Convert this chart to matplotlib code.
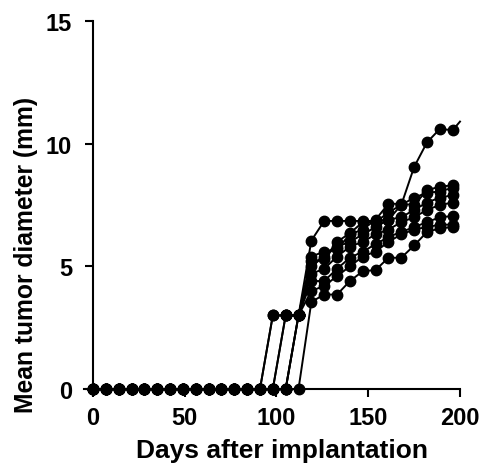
import matplotlib
matplotlib.use("Agg")
import matplotlib.pyplot as plt
import numpy as np

# Measurement days (every 7 days)
days = list(range(0, 197, 7))  # 0..196

# Onset day (last zero reading) and values; 3 mm = first detectable size
late_days = [119, 126, 133, 140, 147, 154, 161, 168, 175, 182, 189, 196]
curves = {
    "A": {"zero_until": 91, "late": [6.05, 6.85, 6.85, 6.85, 6.85, 6.85, 6.9, 7.5, 9.05, 10.05, 10.6, 10.55]},
    "B": {"zero_until": 98, "late": [5.4, 5.6, 5.7, 6.3, 6.5, 6.9, 7.55, 7.55, 7.5, 8.1, 8.25, 8.3]},
    "C": {"zero_until": 105, "late": [5.2, 5.3, 6.0, 6.35, 6.8, 6.8, 7.2, 7.5, 7.8, 8.0, 8.05, 8.2]},
    "D": {"zero_until": 105, "late": [5.0, 5.4, 5.8, 6.0, 6.3, 6.6, 6.9, 7.0, 7.3, 7.6, 7.8, 7.9]},
    "E": {"zero_until": 98, "late": [4.7, 4.9, 5.4, 5.8, 6.0, 6.3, 6.5, 6.8, 7.0, 7.3, 7.5, 7.6]},
    "F": {"zero_until": 105, "late": [4.4, 4.4, 4.9, 5.35, 5.6, 5.9, 6.2, 6.4, 6.6, 6.8, 7.0, 7.05]},
    "G": {"zero_until": 91, "late": [4.0, 4.2, 4.6, 5.0, 5.4, 5.6, 6.0, 6.3, 6.5, 6.6, 6.7, 6.7]},
    "H": {"zero_until": 112, "late": [3.55, 3.85, 3.85, 4.4, 4.8, 4.85, 5.35, 5.35, 5.85, 6.4, 6.55, 6.6]},
}
detect_value = 3.0
# top curve continues to day 200 (line only)
tail_day = 200
tail_value = 10.9

fig = plt.figure(figsize=(4.88, 4.64), dpi=100)
ax = fig.add_axes([83.8 / 488, 74 / 464, (460 - 83.8) / 488, 368 / 464])

for name, c in curves.items():
    ys = []
    for d in days:
        if d <= c["zero_until"]:
            ys.append(0.0)
        elif d < 119:
            ys.append(detect_value)
        else:
            ys.append(c["late"][late_days.index(d)])
    xs = list(days)
    ax.plot(xs, ys, color="black", lw=1.4, marker="o", ms=7.5, clip_on=False, zorder=3)
    if name == "A":
        ax.plot([xs[-1], tail_day], [ys[-1], tail_value], color="black", lw=1.4, clip_on=False)

ax.set_xlim(-5, 200)
ax.set_ylim(0, 15)
ax.spines["top"].set_visible(False)
ax.spines["right"].set_visible(False)
ax.spines["left"].set_position(("data", 0))
for s in ("left", "bottom"):
    ax.spines[s].set_linewidth(1.5)
ax.set_xticks([0, 50, 100, 150, 200])
ax.set_yticks([0, 5, 10, 15])
ax.tick_params(direction="out", length=6, width=1.5, labelsize=17)
ax.tick_params(axis="x", pad=6)
ax.tick_params(axis="y", pad=9)
for lab in ax.get_xticklabels() + ax.get_yticklabels():
    lab.set_fontweight("bold")
    lab.set_family("Liberation Sans")
ax.set_xlabel("Days after implantation", fontsize=19, fontweight="bold", family="Liberation Sans")
ax.set_ylabel("Mean tumor diameter (mm)", fontsize=17.7, fontweight="bold", family="Liberation Sans")
ax.xaxis.set_label_coords(0.527, -0.133)
ax.yaxis.set_label_coords(-0.122, 0.367)

fig.savefig("out.png", dpi=100)
